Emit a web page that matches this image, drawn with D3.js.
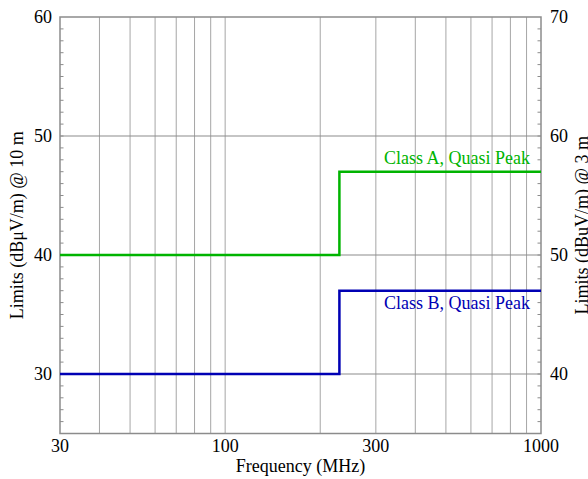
<!DOCTYPE html>
<html>
<head>
<meta charset="utf-8">
<script src="https://cdn.jsdelivr.net/npm/d3@7"></script>
<style>
  body { margin: 0; background: #fff; }
  text { font-family: "Liberation Serif", "Times New Roman", serif; }
</style>
</head>
<body>
<div id="chart"></div>
<script>
// limit steps (MHz -> dBuV/m @ 10 m)
const stepFreqs = [30, 230, 1000];
const classA = [40, 47, 47];
const classB = [30, 37, 37];
const seriesNames = ['Class A, Quasi Peak', 'Class B, Quasi Peak'];
const seriesColors = ['#00b400', '#0000b4'];

const xTickLabels = [30, 100, 300, 1000];
const yLeftTicks = [30, 40, 50, 60];
const yRightTicks = [40, 50, 60, 70];

const width = 588, height = 479;
const margin = { top: 17, right: 47, bottom: 45.5, left: 60 };

const svg = d3.select('#chart').append('svg')
    .attr('width', width)
    .attr('height', height);

const x = d3.scaleLog()
    .domain([30, 1000])
    .range([margin.left, width - margin.right]);

const yL = d3.scaleLinear()
    .domain([25, 60])
    .range([height - margin.bottom, margin.top]);

// 3 m limits sit 10 dB above the 10 m ones
const yR = d3.scaleLinear()
    .domain([35, 70])
    .range([height - margin.bottom, margin.top]);

const x0 = margin.left, x1 = width - margin.right;
const y0 = height - margin.bottom, y1 = margin.top;

// Vertical grid
svg.append('g')
    .selectAll('line')
    .data(x.ticks().filter(d => d > 30 && d < 1000))
    .join('line')
    .attr('x1', d => x(d)).attr('x2', d => x(d))
    .attr('y1', y0).attr('y2', y1)
    .attr('stroke', '#a6a6a6')
    .attr('stroke-width', 1);

// Horizontal grid
svg.append('g')
    .selectAll('line')
    .data(yLeftTicks.filter(d => d < 60))
    .join('line')
    .attr('x1', x0).attr('x2', x1)
    .attr('y1', d => yL(d)).attr('y2', d => yL(d))
    .attr('stroke', '#8c8c8c')
    .attr('stroke-width', 1.2);

// Minor ticks, inward on both sides
const minor = d3.range(26, 60);
svg.append('g')
    .selectAll('line')
    .data(minor)
    .join('line')
    .attr('x1', x0).attr('x2', x0 + 3.5)
    .attr('y1', d => yL(d)).attr('y2', d => yL(d))
    .attr('stroke', '#8c8c8c');
svg.append('g')
    .selectAll('line')
    .data(minor)
    .join('line')
    .attr('x1', x1).attr('x2', x1 - 3.5)
    .attr('y1', d => yL(d)).attr('y2', d => yL(d))
    .attr('stroke', '#8c8c8c');

// Frame
svg.append('rect')
    .attr('x', x0).attr('y', y1)
    .attr('width', x1 - x0).attr('height', y0 - y1)
    .attr('fill', 'none')
    .attr('stroke', '#8c8c8c')
    .attr('stroke-width', 1.5);

// Limit lines
const line = d3.line()
    .x((d, i) => x(stepFreqs[i]))
    .y(d => yL(d))
    .curve(d3.curveStepAfter);

[classA, classB].forEach((s, i) => {
    svg.append('path')
        .datum(s)
        .attr('d', line)
        .attr('fill', 'none')
        .attr('stroke', seriesColors[i])
        .attr('stroke-width', 2.5);
});

// Series labels
svg.append('text')
    .attr('x', 530).attr('y', yL(classA[2]) - 8)
    .attr('text-anchor', 'end')
    .attr('font-size', 18)
    .attr('fill', seriesColors[0])
    .text(seriesNames[0]);
svg.append('text')
    .attr('x', 530).attr('y', yL(classB[2]) + 18)
    .attr('text-anchor', 'end')
    .attr('font-size', 18)
    .attr('fill', seriesColors[1])
    .text(seriesNames[1]);

// Tick labels
svg.append('g')
    .selectAll('text')
    .data(xTickLabels)
    .join('text')
    .attr('x', d => x(d))
    .attr('y', 452)
    .attr('text-anchor', 'middle')
    .attr('font-size', 18)
    .text(d => d);

svg.append('g')
    .selectAll('text')
    .data(yLeftTicks)
    .join('text')
    .attr('x', x0 - 8)
    .attr('y', d => yL(d) + 5.5)
    .attr('text-anchor', 'end')
    .attr('font-size', 18)
    .text(d => d);

svg.append('g')
    .selectAll('text')
    .data(yRightTicks)
    .join('text')
    .attr('x', x1 + 9)
    .attr('y', d => yR(d) + 5.5)
    .attr('text-anchor', 'start')
    .attr('font-size', 18)
    .text(d => d);

// Axis titles
svg.append('text')
    .attr('x', (x0 + x1) / 2)
    .attr('y', 472)
    .attr('text-anchor', 'middle')
    .attr('font-size', 18)
    .text('Frequency (MHz)');

svg.append('text')
    .attr('transform', `translate(23,${(y0 + y1) / 2}) rotate(-90)`)
    .attr('text-anchor', 'middle')
    .attr('font-size', 18)
    .text('Limits (dBμV/m) @ 10 m');

svg.append('text')
    .attr('transform', `translate(588,${(y0 + y1) / 2}) rotate(-90)`)
    .attr('text-anchor', 'middle')
    .attr('font-size', 18)
    .text('Limits (dBuV/m) @ 3 m');
</script>
</body>
</html>
